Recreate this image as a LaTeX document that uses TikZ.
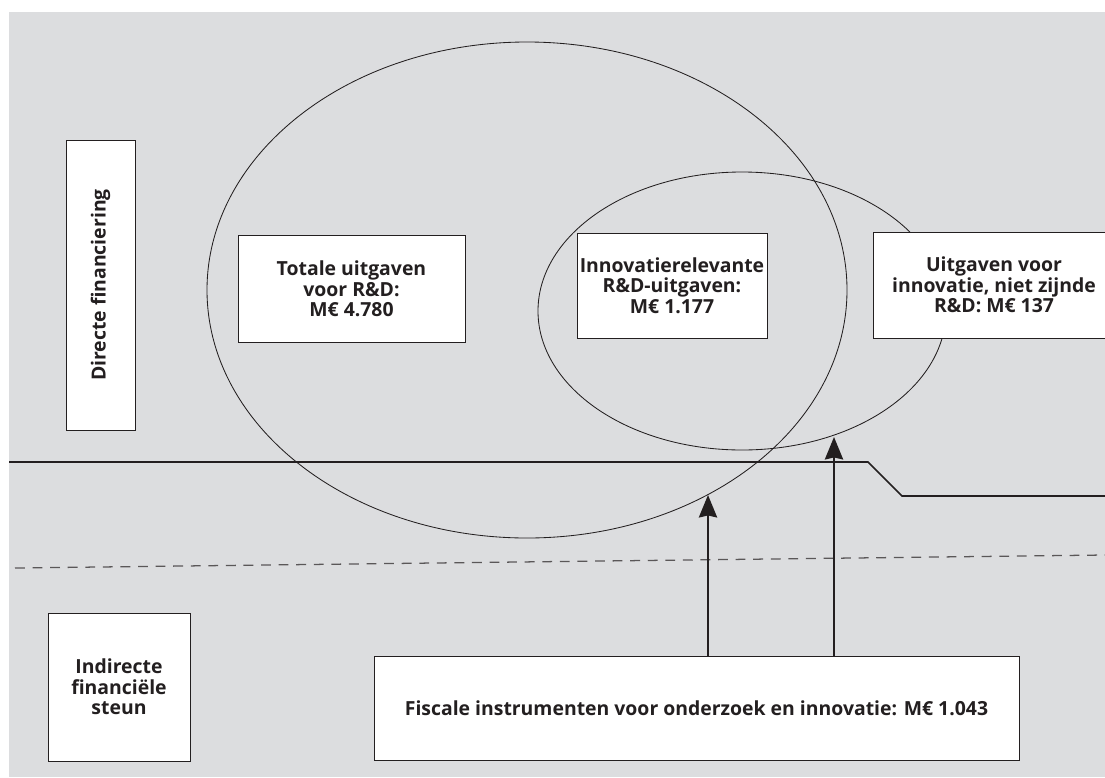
\documentclass[tikz,border=0pt]{standalone}
\usepackage{fontspec}
\setmainfont{Open Sans}
\usetikzlibrary{arrows.meta}
\definecolor{panel}{HTML}{DCDDDF}
\definecolor{ink}{HTML}{231F20}
\newcommand{\pxl}{0.025cm}
\tikzset{
	box/.style={draw=ink, fill=white, line width=0.7pt, align=center, inner sep=0pt},
	ring/.style={draw=ink, line width=0.6pt},
	border/.style={draw=ink, line width=1.2pt},
	push/.style={draw=ink, line width=1.4pt, -{Stealth[length=16pt,width=13pt,inset=1.5pt]}}
}

\begin{document}
\begin{tikzpicture}[x=0.025cm, y=-0.025cm, font=\fontsize{13.8}{14.6}\selectfont\bfseries, text=ink]
\useasboundingbox (0,0) rectangle (1105,777);
\fill[panel] (9,12) rectangle (1105,777);

\draw[ring] (527,290) ellipse [x radius=320, y radius=248];
\draw[ring] (742,311) ellipse [x radius=204, y radius=139];

\draw[border] (9,462) -- (868,462) -- (902,496) -- (1105,496);
\draw[ink!75, line width=0.9pt, dash pattern=on 7pt off 5.5pt] (15,568) -- (1105,555);

\node[box, minimum width=69*\pxl, minimum height=290*\pxl] (direct) at (100.5,285) {\rotatebox{90}{Directe financiering}};
\node[box, minimum width=227*\pxl, minimum height=107*\pxl] (total) at (351.5,289) {Totale uitgaven\\voor R\&D:\\M€ 4.780};
\node[box, minimum width=190*\pxl, minimum height=105*\pxl] (innov) at (672,285.5) {Innovatierelevante\\R\&D-uitgaven:\\M€ 1.177};
\node[box, minimum width=242*\pxl, minimum height=106*\pxl] (other) at (994,285) {Uitgaven voor\\innovatie, niet zijnde\\R\&D: M€ 137};
\node[box, minimum width=142*\pxl, minimum height=148*\pxl] (indirect) at (119,687) {Indirecte\\financiële\\steun};
\node[box, minimum width=645*\pxl, minimum height=104*\pxl] (fiscal) at (696.5,708) {Fiscale instrumenten voor onderzoek en innovatie: M€ 1.043};

\coordinate (hitTotal) at (708,495);
\coordinate (hitInnov) at (834,437);
\draw[push] (fiscal.north -| hitTotal) -- (hitTotal);
\draw[push] (fiscal.north -| hitInnov) -- (hitInnov);
\end{tikzpicture}
\end{document}
